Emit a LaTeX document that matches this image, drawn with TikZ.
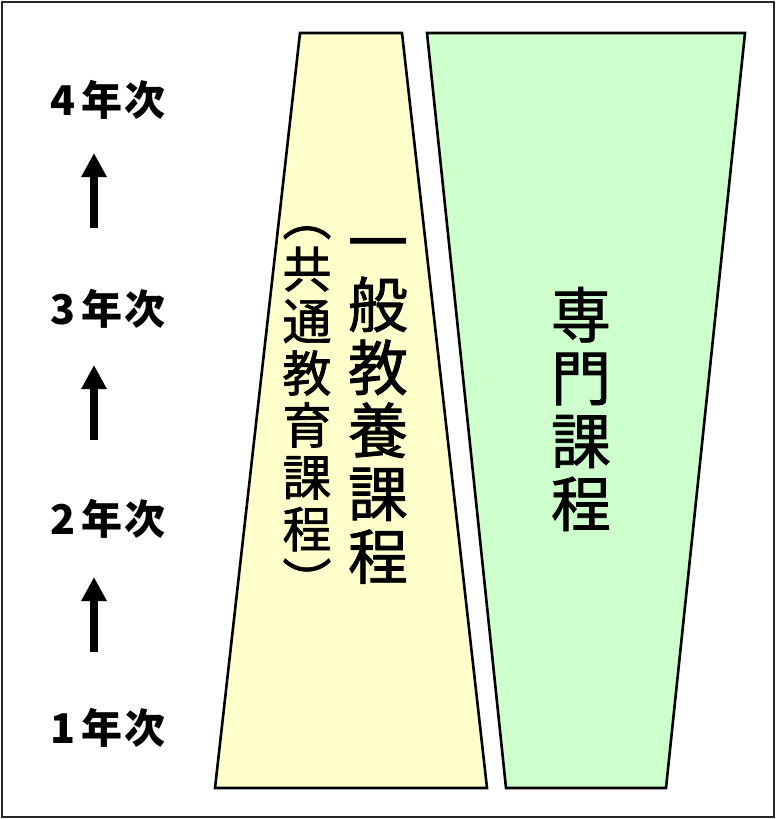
\documentclass[tikz,border=0pt]{standalone}
\usepackage{fontspec}
\newfontfamily\cjk{Noto Sans CJK JP}
\newfontfamily\cjkv[FakeBold=1.4]{Noto Sans CJK JP}
\usetikzlibrary{arrows.meta}
\definecolor{genyellow}{HTML}{FFFFCC}
\definecolor{spcgreen}{HTML}{CCFFCC}
\tikzset{
  yearlbl/.style={font=\cjk\bfseries\fontsize{41}{44}\selectfont, inner sep=0pt},
  bigcol/.style={font=\cjkv\fontsize{60}{63}\selectfont, align=center, inner sep=0pt},
  smallcol/.style={font=\cjkv\fontsize{49}{52}\selectfont, align=center, inner sep=0pt},
  upar/.style={line width=8pt, -{Triangle[width=24pt,length=24pt]}},
  trap/.style={draw=black, line width=2.6pt, line join=miter},
}
\newcommand{\yrlab}[1]{#1\hspace{7pt}年\hspace{2pt}次}
\begin{document}
\begin{tikzpicture}[x=1pt,y=-1pt]
\useasboundingbox (0,0) rectangle (776,819);
\draw[line width=2.6pt, draw=black!85] (2,2) rectangle (774,817);
% trapezoids
\draw[trap, fill=genyellow] (300,33) -- (402,33) -- (487,788) -- (215,788) -- cycle;
\draw[trap, fill=spcgreen] (427,33) -- (745,33) -- (666,788) -- (506,788) -- cycle;
% year labels
\node[yearlbl] (y4) at (108,100) {\yrlab{4}};
\node[yearlbl] (y3) at (108,309) {\yrlab{3}};
\node[yearlbl] (y2) at (108,519) {\yrlab{2}};
\node[yearlbl] (y1) at (108,728) {\yrlab{1}};
% arrow ends
\coordinate (a1s) at (94,228); \coordinate (a1e) at (94,153);
\coordinate (a2s) at (94,440); \coordinate (a2e) at (94,365);
\coordinate (a3s) at (94,652); \coordinate (a3e) at (94,577);
\draw[upar] (a1s) -- (a1e);
\draw[upar] (a2s) -- (a2e);
\draw[upar] (a3s) -- (a3e);
% vertical texts
\node[bigcol] (gen) at (378,411) {一\\般\\教\\養\\課\\程};
\node[smallcol] (kyo) at (307,413) {︵\\共\\通\\教\\育\\課\\程\\︶};
\node[bigcol] (spc) at (581,409) {専\\門\\課\\程};
\end{tikzpicture}
\end{document}
